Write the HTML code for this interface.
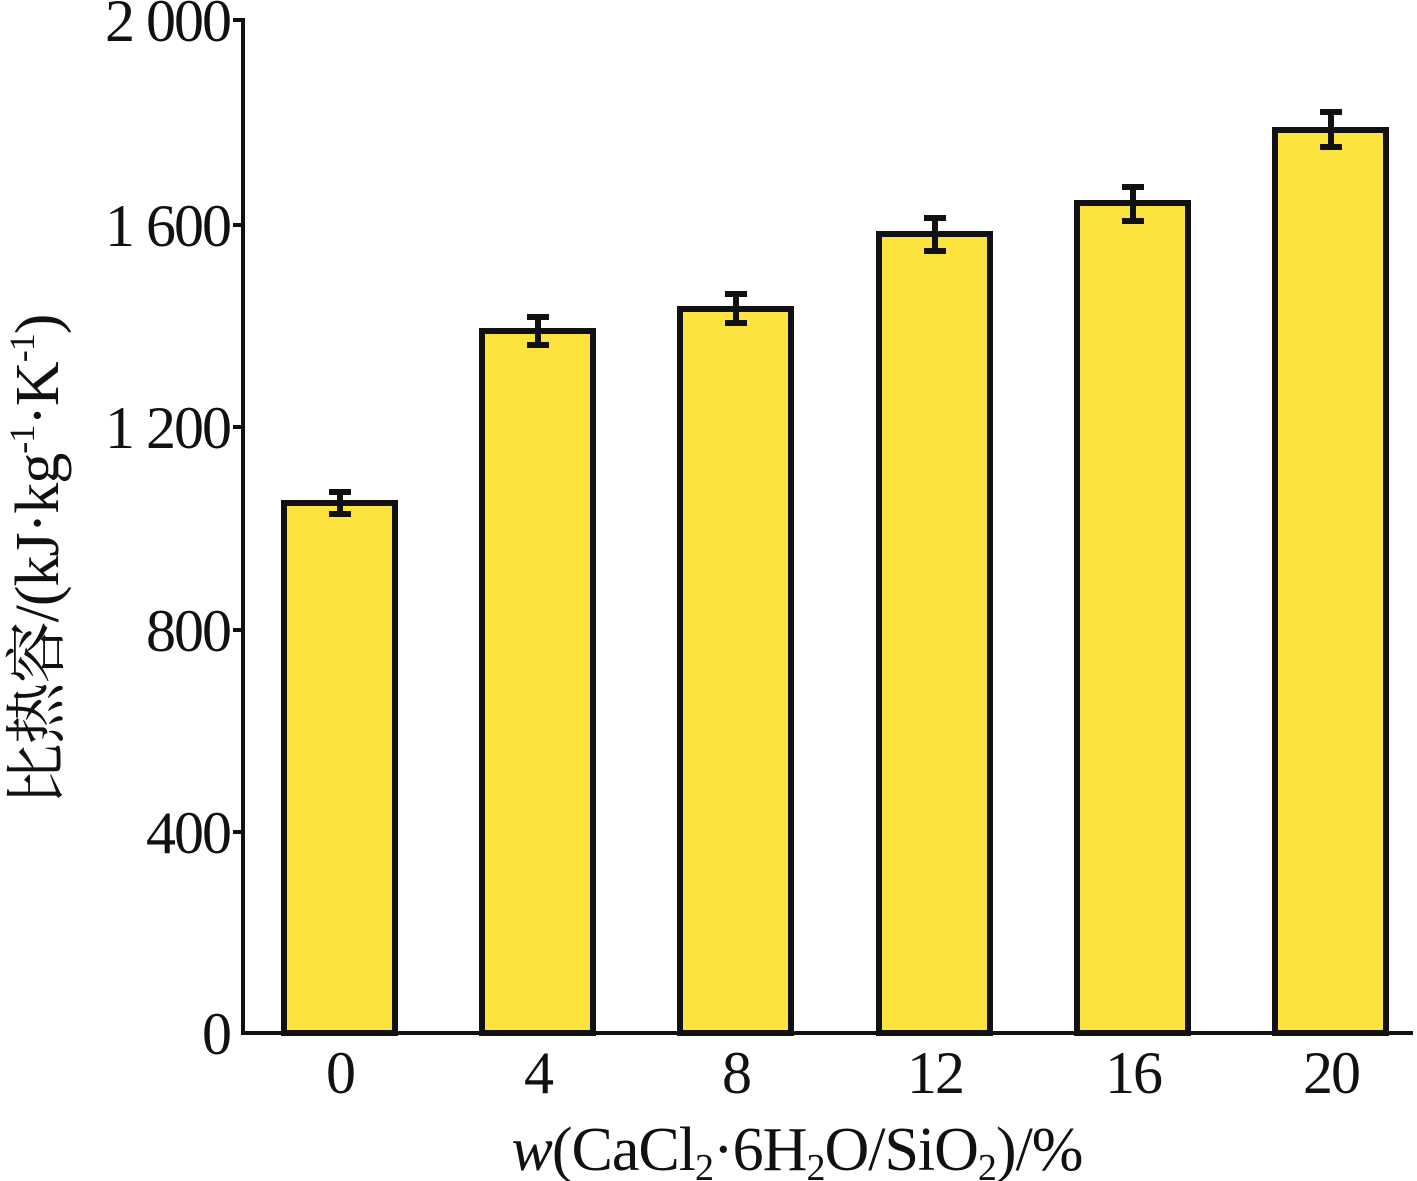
<!DOCTYPE html>
<html><head><meta charset="utf-8"><style>
html,body{margin:0;padding:0;background:#fff;}
svg{display:block;}
text{font-family:"Liberation Serif","Noto Serif CJK SC",serif;fill:#111;}
</style></head><body>
<svg width="1417" height="1181" viewBox="0 0 1417 1181" xmlns="http://www.w3.org/2000/svg">
<g fill="#fde33d" stroke="#111" stroke-width="6">
<rect x="284" y="503" width="111" height="530"/>
<rect x="482" y="331" width="111" height="702"/>
<rect x="680" y="309" width="111" height="724"/>
<rect x="879" y="234" width="111" height="799"/>
<rect x="1077" y="203" width="111" height="830"/>
<rect x="1275" y="130" width="111" height="903"/>
</g>
<g stroke="#111" stroke-width="6" fill="none">
<path d="M340 492V514M329 492H351M329 514H351"/>
<path d="M538 317V345M527 317H549M527 345H549"/>
<path d="M736 294V323M725 294H747M725 323H747"/>
<path d="M935 218V251M924 218H946M924 251H946"/>
<path d="M1133 187V221M1122 187H1144M1122 221H1144"/>
<path d="M1331 112V147M1320 112H1342M1320 147H1342"/>
</g>
<g stroke="#111" stroke-width="4" fill="none">
<path d="M243 18V1035M241 1033H1413"/>
<path d="M233 20H243M233 225H243M233 427H243M233 630H243M233 832H243"/>
</g>
<g font-size="60" text-anchor="end" letter-spacing="-2">
<text x="230" y="41">2 000</text>
<text x="230" y="246">1 600</text>
<text x="230" y="448">1 200</text>
<text x="230" y="651">800</text>
<text x="230" y="853">400</text>
<text x="230" y="1054">0</text>
</g>
<g font-size="60" text-anchor="middle" letter-spacing="-2">
<text x="340" y="1093">0</text>
<text x="538" y="1093">4</text>
<text x="736" y="1093">8</text>
<text x="935" y="1093">12</text>
<text x="1133" y="1093">16</text>
<text x="1331" y="1093">20</text>
</g>
<text x="797" y="1170" font-size="62" text-anchor="middle" letter-spacing="-1"><tspan font-style="italic">w</tspan>(CaCl<tspan font-size="38" dy="10">2</tspan><tspan dy="-10">·6H</tspan><tspan font-size="38" dy="10">2</tspan><tspan dy="-10">O/SiO</tspan><tspan font-size="38" dy="10">2</tspan><tspan dy="-10">)/%</tspan></text>
<text transform="translate(58,560) rotate(-90)" font-size="62" text-anchor="middle" letter-spacing="-1">比热容/(kJ·kg<tspan font-size="36" dy="-24">-1</tspan><tspan dy="24">·K</tspan><tspan font-size="36" dy="-24">-1</tspan><tspan dy="24">)</tspan></text>
</svg>
</body></html>
